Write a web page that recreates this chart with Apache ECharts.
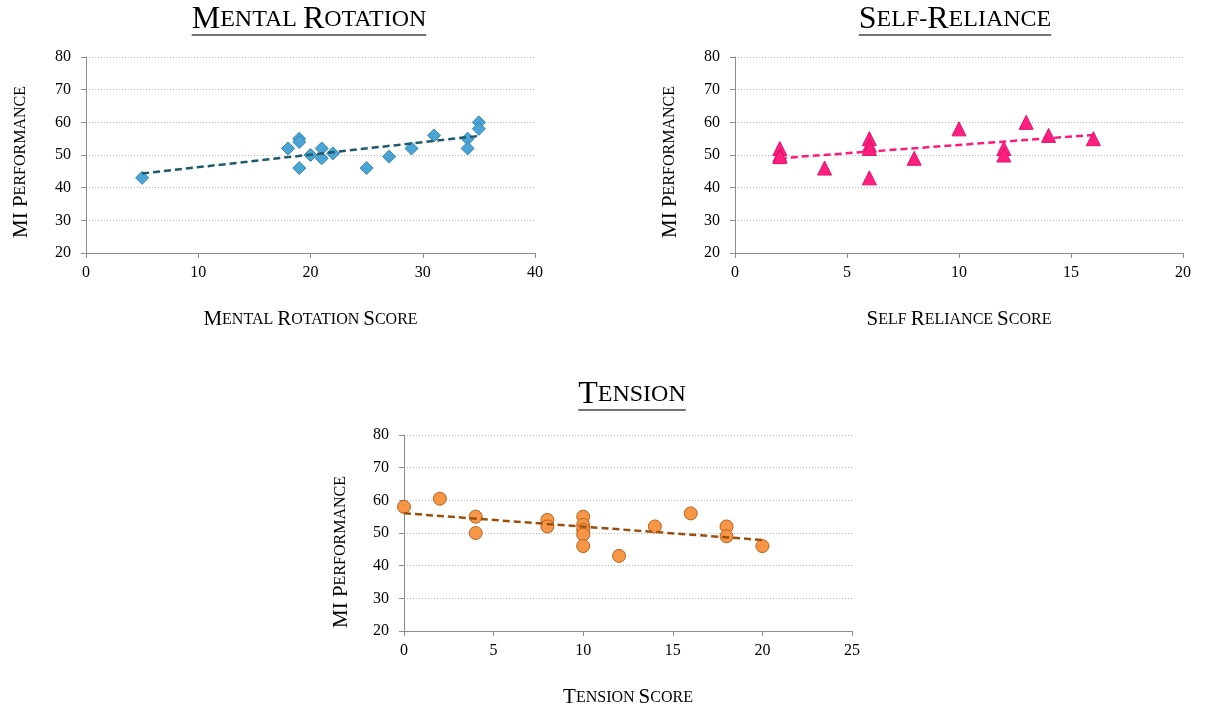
<!DOCTYPE html>
<html><head><meta charset="utf-8">
<script src="https://cdn.jsdelivr.net/npm/echarts@6/dist/echarts.min.js"></script>
<style>html,body{margin:0;padding:0;background:#fff}#c{width:1205px;height:709px}</style>
</head><body><div id="c"></div><script>
// ---- data ----
const mentalX = [5,18,19,19,19,20,21,21,22,25,27,29,31,34,34,35,35];
const mentalY = [43,52,55,54,46,50,52,49,50.5,46,49.5,52,56,55,52,60,58];
const selfX = [2,2,2,4,6,6,6,6,8,10,12,12,13,14,16];
const selfY = [52,50,49.5,46,55,53,52,43,49,58,52,50,60,56,55];
const tensionX = [0,2,4,4,8,8,10,10,10,10,10,12,14,16,18,18,20];
const tensionY = [58,60.5,55,50,54,52,55,52.5,51,49.5,46,43,52,56,52,49,46];
const yTickMin = 20, yTickMax = 80, yTickStep = 10;
const xMaxes = [40, 20, 25];
const xSteps = [10, 5, 5];

const FONT = '"Liberation Serif","Times New Roman",serif';

function pairs(xs, ys){ return xs.map((x,i)=>[x, ys[i]]); }
function trend(xs, ys){
  const n = xs.length;
  const mx = xs.reduce((a,b)=>a+b,0)/n, my = ys.reduce((a,b)=>a+b,0)/n;
  let sxy=0, sxx=0;
  for(let i=0;i<n;i++){ sxy+=(xs[i]-mx)*(ys[i]-my); sxx+=(xs[i]-mx)*(xs[i]-mx); }
  const b = sxy/sxx, a = my - b*mx;
  const x0 = Math.min(...xs), x1 = Math.max(...xs);
  return [[x0, a+b*x0],[x1, a+b*x1]];
}
const cv = document.createElement('canvas').getContext('2d');
function widthOf(parts){
  let w=0; parts.forEach(([t,s])=>{ cv.font = s+'px '+FONT; w+=cv.measureText(t).width; }); return w;
}

const TB = 32, TS = 24, AB = 21, AS = 16;
const rich = {
  T:{fontSize:TB,fontFamily:FONT,color:'#000'},
  t:{fontSize:TS,fontFamily:FONT,color:'#000'},
  A:{fontSize:AB,fontFamily:FONT,color:'#000'},
  a:{fontSize:AS,fontFamily:FONT,color:'#000'}
};

const grids = [
  {left:86, top:57, width:449, height:196},
  {left:735, top:57, width:448, height:196},
  {left:404, top:435, width:448, height:197}
];
const xNames = [
  '{A|M}{a|ENTAL }{A|R}{a|OTATION }{A|S}{a|CORE}',
  '{A|S}{a|ELF }{A|R}{a|ELIANCE }{A|S}{a|CORE}',
  '{A|T}{a|ENSION }{A|S}{a|CORE}'
];
const titles = [
  {parts:[['M',TB],['ENTAL ',TS],['R',TB],['OTATION',TS]], text:'{T|M}{t|ENTAL }{T|R}{t|OTATION}', cx:309, y:36},
  {parts:[['S',TB],['ELF-',TS],['R',TB],['ELIANCE',TS]], text:'{T|S}{t|ELF-}{T|R}{t|ELIANCE}', cx:955, y:36},
  {parts:[['T',TB],['ENSION',TS]], text:'{T|T}{t|ENSION}', cx:632, y:411}
];
const yNamePos = [[21,162],[670,162],[341,552]];

const axisLine = {show:true, lineStyle:{color:'#8c8c8c', width:1}};
const axisTick = {show:true, length:5, lineStyle:{color:'#8c8c8c'}};
const labelStyle = {color:'#000', fontSize:16, fontFamily:FONT};

const xAxis = grids.map((g,i)=>({
  type:'value', gridIndex:i, min:0, max:xMaxes[i], interval:xSteps[i],
  axisLine, axisTick, splitLine:{show:false},
  axisLabel:Object.assign({margin:12}, labelStyle),
  name:xNames[i], nameLocation:'middle', nameGap:56,
  nameTextStyle:{rich}
}));
const yAxis = grids.map((g,i)=>({
  type:'value', gridIndex:i, min:yTickMin, max:yTickMax, interval:yTickStep,
  axisLine, axisTick,
  splitLine:{show:true, lineStyle:{color:'#b5b5b5', type:[1,2], width:1}},
  axisLabel:Object.assign({margin:15}, labelStyle)
}));

const sets = [
  {xs:mentalX, ys:mentalY, symbol:'diamond', size:13, fill:'#4aa5d5', border:'#3585b6', line:'#1f5a6c'},
  {xs:selfX, ys:selfY, symbol:'triangle', size:14, fill:'#ff1f80', border:'#e0146c', line:'#ff1a78'},
  {xs:tensionX, ys:tensionY, symbol:'circle', size:13, fill:'#f79646', border:'#b8621f', line:'#9c4f0c'}
];
const series = [];
sets.forEach((s,i)=>{
  series.push({type:'scatter', xAxisIndex:i, yAxisIndex:i, data:pairs(s.xs,s.ys),
    symbol:s.symbol, symbolSize:s.size, z:2,
    itemStyle:{color:s.fill, borderColor:s.border, borderWidth:1, opacity:1}});
  series.push({type:'line', xAxisIndex:i, yAxisIndex:i, data:trend(s.xs,s.ys),
    symbol:'none', z:3, silent:true,
    lineStyle:{color:s.line, width:2.5, type:[7,4]}});
});

const graphic = [];
titles.forEach(t=>{
  const w = widthOf(t.parts);
  graphic.push({type:'text', x:t.cx, y:t.y, style:{text:t.text, rich, align:'center', verticalAlign:'bottom', fill:'#000'}});
  graphic.push({type:'line', shape:{x1:t.cx-w/2, y1:t.y-1, x2:t.cx+w/2, y2:t.y-1}, style:{stroke:'#444', lineWidth:1.6}});
});
yNamePos.forEach(p=>{
  graphic.push({type:'text', x:p[0], y:p[1], rotation:Math.PI/2,
    style:{text:'{A|MI P}{a|ERFORMANCE}', rich, align:'center', verticalAlign:'middle', fill:'#000'}});
});

const chart = echarts.init(document.getElementById('c'), null, {renderer:'canvas'});
chart.setOption({
  animation:false, backgroundColor:'#fff',
  grid:grids, xAxis, yAxis, series, graphic
});
</script></body></html>
